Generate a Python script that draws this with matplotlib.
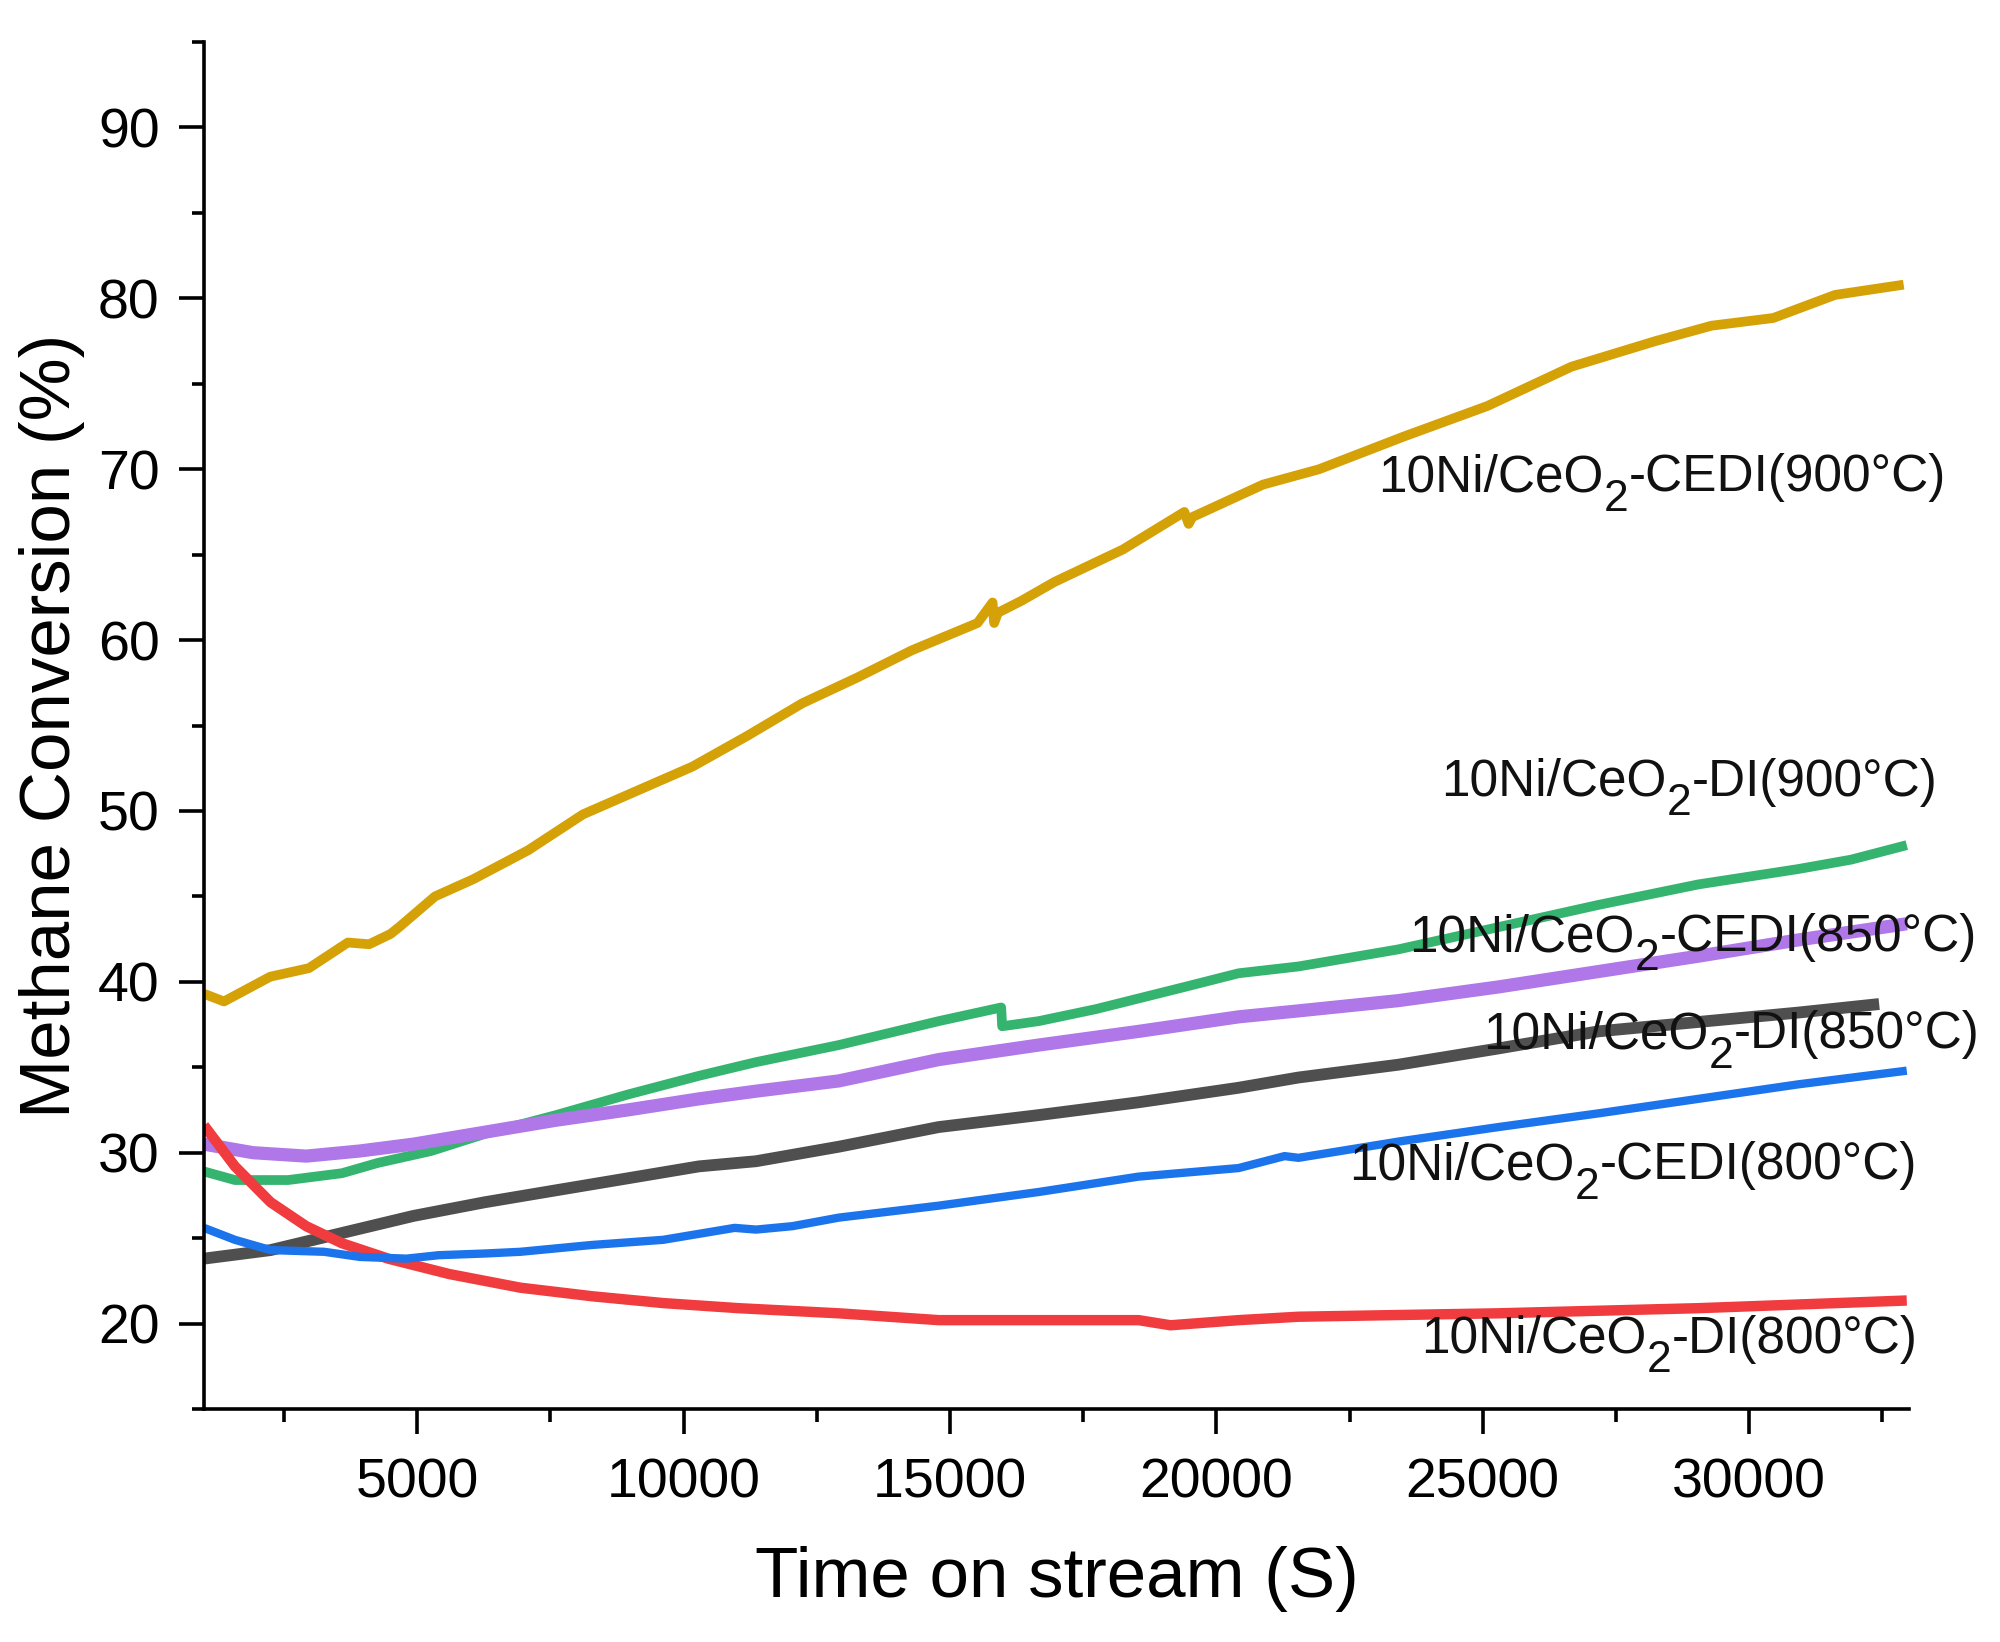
import matplotlib
matplotlib.use('Agg')
import matplotlib.pyplot as plt
from matplotlib.ticker import MultipleLocator

plt.rcParams['font.family'] = ['Liberation Sans', 'DejaVu Sans']

# ---------------- data ----------------
x_cedi900 = [1000, 1374, 2243, 2969, 3700, 4100, 4500, 4662, 5336, 6050, 7084, 8113, 9141,
             10170, 11199, 12228, 13256, 14284, 15518, 15800, 15830, 15900, 16343, 16960,
             18245, 19400, 19480, 19550, 20876, 21929, 23508, 25087, 26665, 28243, 29296,
             30453, 31611, 32900]
y_cedi900 = [39.3, 38.85, 40.3, 40.8, 42.3, 42.2, 42.8, 43.2, 45.0, 46.0, 47.7, 49.8, 51.2,
             52.6, 54.4, 56.3, 57.8, 59.4, 61.0, 62.2, 61.0, 61.6, 62.3, 63.4,
             65.3, 67.5, 66.8, 67.2, 69.1, 70.0, 71.9, 73.7, 76.0, 77.5, 78.4,
             78.85, 80.2, 80.8]

x_di900 = [1000, 1581, 2580, 3590, 4260, 5263, 6270, 7607, 8950, 10290, 11360, 12914, 14790,
           15962, 15980, 16666, 17735, 19404, 20417, 21542, 23417, 25293, 27168, 29044,
           30920, 31913, 32958]
y_di900 = [28.9, 28.4, 28.4, 28.8, 29.4, 30.1, 31.1, 32.2, 33.4, 34.5, 35.3, 36.3, 37.7,
           38.5, 37.4, 37.7, 38.4, 39.7, 40.5, 40.9, 41.9, 43.2, 44.5, 45.7,
           46.6, 47.15, 48.0]

x_cedi850 = [1000, 1920, 2918, 3925, 4930, 6270, 7607, 8950, 10290, 11360, 12914, 14790,
             16666, 18541, 20417, 21542, 23417, 25293, 27168, 29044, 30920, 32958]
y_cedi850 = [30.5, 30.0, 29.8, 30.1, 30.5, 31.2, 31.9, 32.5, 33.15, 33.6, 34.2, 35.45,
             36.3, 37.1, 37.95, 38.3, 38.9, 39.7, 40.6, 41.5, 42.45, 43.4]

x_di850 = [1000, 2250, 3590, 4930, 6270, 7607, 8950, 10290, 11360, 12914, 14790, 16666,
           18541, 20417, 21542, 23417, 25293, 27168, 29044, 30920, 32440]
y_di850 = [23.8, 24.3, 25.3, 26.3, 27.1, 27.8, 28.5, 29.2, 29.5, 30.35, 31.5, 32.2,
           32.95, 33.8, 34.4, 35.15, 36.1, 37.1, 37.65, 38.2, 38.7]

x_cedi800 = [1000, 1581, 2250, 3256, 3925, 4800, 5400, 6270, 6937, 8280, 9614, 10958, 11360,
             12044, 12914, 14790, 15728, 16666, 18541, 20417, 21280, 21542, 23417, 25293,
             27168, 29044, 30920, 32958]
y_cedi800 = [25.6, 24.9, 24.3, 24.2, 23.9, 23.8, 24.0, 24.1, 24.2, 24.6, 24.9, 25.6, 25.5,
             25.7, 26.2, 26.9, 27.3, 27.7, 28.6, 29.1, 29.8, 29.7, 30.65, 31.5,
             32.3, 33.15, 34.0, 34.8]

x_di800 = [1000, 1581, 2250, 2918, 3590, 4456, 5600, 6937, 8280, 9614, 11039, 12914, 14790,
           16666, 18541, 19140, 20417, 21542, 25293, 29044, 32958]
y_di800 = [31.6, 29.2, 27.1, 25.7, 24.7, 23.8, 22.9, 22.1, 21.6, 21.2, 20.9, 20.6, 20.2,
           20.2, 20.2, 19.9, 20.2, 20.4, 20.6, 20.9, 21.35]

labels = ["10Ni/CeO2-CEDI(900°C)", "10Ni/CeO2-DI(900°C)", "10Ni/CeO2-CEDI(850°C)",
          "10Ni/CeO2-DI(850°C)", "10Ni/CeO2-CEDI(800°C)", "10Ni/CeO2-DI(800°C)"]
label_pos = [(23042, 68.7), (24224, 50.9), (23624, 41.8),
             (25012, 36.1), (22499, 28.45), (23849, 18.3)]

x_ticks = [5000, 10000, 15000, 20000, 25000, 30000]
y_ticks = [20, 30, 40, 50, 60, 70, 80, 90]

# ---------------- figure ----------------
fig = plt.figure(figsize=(20, 16.42), dpi=100)
ax = fig.add_axes([0.102, 0.1419, 0.8525, 0.8325])

series = [
    (x_di850, y_di850, '#4F4F4F', 8.5),
    (x_di900, y_di900, '#34B46E', 7.0),
    (x_cedi850, y_cedi850, '#B077E8', 9.5),
    (x_di800, y_di800, '#F03C3E', 7.5),
    (x_cedi800, y_cedi800, '#1C74EC', 6.0),
    (x_cedi900, y_cedi900, '#D4A106', 7.0),
]
for xs, ys, c, lw in series:
    ax.plot(xs, ys, color=c, lw=lw, solid_joinstyle='round', solid_capstyle='butt')

ax.set_xlim(1000, 33000)
ax.set_ylim(15, 95)
ax.set_xticks(x_ticks)
ax.set_xticklabels([str(v) for v in x_ticks])
ax.set_yticks(y_ticks)
ax.set_yticklabels([str(v) for v in y_ticks])
ax.xaxis.set_minor_locator(MultipleLocator(2500))
ax.yaxis.set_minor_locator(MultipleLocator(5))

for s in ['top', 'right']:
    ax.spines[s].set_visible(False)
for s in ['left', 'bottom']:
    ax.spines[s].set_linewidth(2.6)

ax.tick_params(which='major', direction='out', length=18, width=2.6, labelsize=40)
ax.tick_params(which='minor', direction='out', length=9, width=2.6)
ax.tick_params(axis='x', which='major', pad=17)
ax.tick_params(axis='y', which='major', pad=14)

ax.set_xlabel('Time on stream (S)', fontsize=51)
ax.set_ylabel('Methane Conversion (%)', fontsize=51)
ax.xaxis.set_label_coords(0.5, -0.100)
ax.yaxis.set_label_coords(-0.070, 0.5)


def subscript_label(ax, text, x, y, size=37, subsize=32, drop=12.5):
    pre, post = text.split('O2', 1)
    t1 = ax.annotate(pre + 'O', xy=(x, y), xycoords='data', fontsize=size,
                     ha='left', va='baseline', color='#111111')
    t2 = ax.annotate('2', xy=(1, 0), xycoords=t1, xytext=(0, -drop),
                     textcoords='offset points', fontsize=subsize,
                     ha='left', va='bottom', color='#111111')
    ax.annotate(post, xy=(1, 0), xycoords=(t2, t1), fontsize=size,
                ha='left', va='bottom', color='#111111')


for lab, (lx, ly) in zip(labels, label_pos):
    subscript_label(ax, lab, lx, ly)

fig.savefig('out.png', dpi=100)
